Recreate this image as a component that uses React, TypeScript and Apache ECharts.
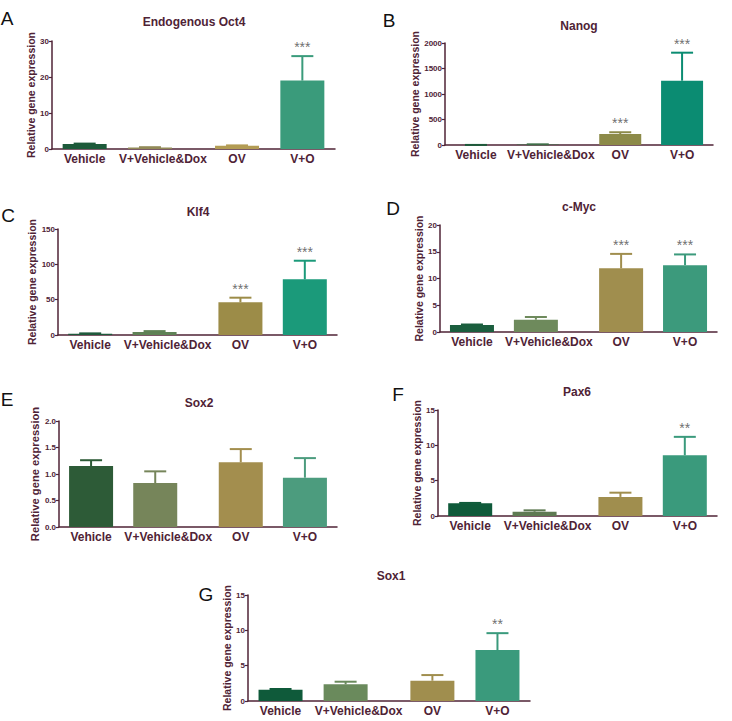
import React, { useEffect, useRef } from "react";
import * as echarts from "echarts";

// ---------- data ----------
const categories = ["Vehicle", "V+Vehicle&Dox", "OV", "V+O"];

const oct4Mean = [1.4, 0.4, 0.9, 19.0];
const oct4Err = [0.1, 0.1, 0.1, 6.8];
const oct4Stars = ["", "", "", "***"];

const nanogMean = [1, 10, 216, 1261];
const nanogErr = [0.3, 3, 34, 549];
const nanogStars = ["", "", "***", "***"];

const klf4Mean = [1.8, 4.2, 46.3, 78.8];
const klf4Err = [0.5, 1.3, 6.5, 26.3];
const klf4Stars = ["", "", "***", "***"];

const cmycMean = [1.3, 2.3, 11.9, 12.5];
const cmycErr = [0.1, 0.5, 2.7, 2.0];
const cmycStars = ["", "", "***", "***"];

const sox2Mean = [1.15, 0.83, 1.22, 0.93];
const sox2Err = [0.11, 0.22, 0.25, 0.37];
const sox2Stars = ["", "", "", ""];

const pax6Mean = [1.8, 0.6, 2.7, 8.6];
const pax6Err = [0.05, 0.2, 0.6, 2.6];
const pax6Stars = ["", "", "", "**"];

const sox1Mean = [1.6, 2.36, 2.87, 7.2];
const sox1Err = [0.1, 0.37, 0.8, 2.4];
const sox1Stars = ["", "", "", "**"];

// y axis ranges (max, interval)
const oct4Axis = [30, 10];
const nanogAxis = [2000, 500];
const klf4Axis = [150, 50];
const cmycAxis = [20, 5];
const sox2Axis = [2, 0.5];
const pax6Axis = [15, 5];
const sox1Axis = [15, 5];

// ---------- styles / layout ----------
const FONT = "'Liberation Sans', Arial, sans-serif";
const MAROON = "#4f2336";

const panels = [
  { letter: "A", title: "Endogenous Oct4", mean: oct4Mean, err: oct4Err, stars: oct4Stars, axis: oct4Axis,
    colors: ["#1d5a3a", "#928a58", "#b39c54", "#3a9b7b"],
    left: 52, right: 335, top: 41, bottom: 149, titleX: 194, titleY: 23, lx: 7, ly: 18, nameGap: 14, nameSize: 10.5, bw: 44 },
  { letter: "B", title: "Nanog", mean: nanogMean, err: nanogErr, stars: nanogStars, axis: nanogAxis,
    colors: ["#1d5a3a", "#3f6e48", "#8c8a48", "#0b8c72"],
    left: 445, right: 713, top: 43, bottom: 145, titleX: 579, titleY: 27, lx: 389, ly: 20, nameGap: 20, nameSize: 10.5, bw: 42 },
  { letter: "C", title: "Klf4", mean: klf4Mean, err: klf4Err, stars: klf4Stars, axis: klf4Axis,
    colors: ["#1f5a3c", "#5f8256", "#9c8c48", "#1b9a7a"],
    left: 58, right: 337, top: 229, bottom: 335, titleX: 198, titleY: 213, lx: 8, ly: 215, nameGap: 20, nameSize: 10.5, bw: 44 },
  { letter: "D", title: "c-Myc", mean: cmycMean, err: cmycErr, stars: cmycStars, axis: cmycAxis,
    colors: ["#1b5e3e", "#6e8a5c", "#a08e4e", "#3c9a7c"],
    left: 440, right: 717, top: 225, bottom: 332, titleX: 579, titleY: 208, lx: 393, ly: 208, nameGap: 15, nameSize: 10.5, bw: 44 },
  { letter: "E", title: "Sox2", mean: sox2Mean, err: sox2Err, stars: sox2Stars, axis: sox2Axis, dec: 1,
    colors: ["#2d5b37", "#76855a", "#a38e4e", "#4c9c7e"],
    left: 59, right: 337, top: 421, bottom: 527, titleX: 199, titleY: 404, lx: 7, ly: 399, nameGap: 16, nameSize: 11.2, bw: 44 },
  { letter: "F", title: "Pax6", mean: pax6Mean, err: pax6Err, stars: pax6Stars, axis: pax6Axis,
    colors: ["#0f5a3a", "#5e7a52", "#a08e4e", "#3a9a7c"],
    left: 438, right: 717, top: 410, bottom: 516, titleX: 577, titleY: 393, lx: 398, ly: 394, nameGap: 15, nameSize: 10.5, bw: 44 },
  { letter: "G", title: "Sox1", mean: sox1Mean, err: sox1Err, stars: sox1Stars, axis: sox1Axis,
    colors: ["#0f5a3a", "#6a8a5c", "#a08e4e", "#3a9a7c"],
    left: 248, right: 530, top: 595, bottom: 701, titleX: 391, titleY: 577, lx: 206, ly: 594, nameGap: 11, nameSize: 10.5, bw: 44 },
];

// category slot positions: GraphPad-style gap between 2nd and 3rd bar
const positions = categories.map((_, i) => i * 3 + (i >= 2 ? 1 : 0));

function buildOption() {
  const grid: any[] = [];
  const xAxis: any[] = [];
  const yAxis: any[] = [];
  const series: any[] = [];
  const title: any[] = [];
  const graphic: any[] = [];

  panels.forEach((p: any, i) => {
    grid.push({ left: p.left, top: p.top, width: p.right - p.left, height: p.bottom - p.top, containLabel: false, outerBoundsMode: "none" });
    xAxis.push({
      type: "value", gridIndex: i, min: -1.5, max: 11.5, interval: 0.5,
      splitLine: { show: false }, axisTick: { show: false },
      axisLine: { show: true, onZero: false, lineStyle: { color: MAROON, width: 1.5 } },
      axisLabel: {
        margin: 4, fontSize: 12, fontWeight: "bold", color: MAROON, fontFamily: FONT,
        showMinLabel: true, showMaxLabel: true,
        formatter: (v: number) => {
          const k = positions.findIndex((q) => Math.abs(q - v) < 1e-6);
          if (k < 0) return "";
          return k === 1 ? "{s|" + categories[k] + "}" : categories[k];
        },
        rich: { s: { padding: [0, 0, 0, 26], fontSize: 12, fontWeight: "bold", color: MAROON, fontFamily: FONT } },
      },
    });
    yAxis.push({
      type: "value", gridIndex: i, min: 0, max: p.axis[0], interval: p.axis[1],
      name: "Relative gene expression", nameLocation: "middle", nameRotate: 90, nameGap: p.nameGap,
      nameTextStyle: { fontSize: p.nameSize, fontWeight: "bold", color: MAROON, fontFamily: FONT },
      axisLine: { show: true, onZero: false, lineStyle: { color: MAROON, width: 1.5 } },
      axisTick: { show: true, length: 3, lineStyle: { color: MAROON, width: 1.2 } },
      axisLabel: {
        fontSize: 8, fontWeight: "bold", color: MAROON, fontFamily: FONT, margin: 3,
        formatter: (v: number) => (p.dec ? v.toFixed(1) : String(v)),
      },
      splitLine: { show: false },
    });
    series.push({
      type: "bar", xAxisIndex: i, yAxisIndex: i, barWidth: p.bw, z: 2,
      data: p.mean.map((m: number, k: number) => ({ value: [positions[k], m], itemStyle: { color: p.colors[k] } })),
    });
    series.push({
      type: "custom", xAxisIndex: i, yAxisIndex: i, z: 3, encode: { x: 0, y: 1 },
      data: p.mean.map((m: number, k: number) => [positions[k], m, p.err[k]]),
      renderItem: (params: any, api: any) => {
        const x = api.value(0), m = api.value(1), e = api.value(2);
        const a = api.coord([x, m]);
        const b = api.coord([x, m + e]);
        const c = p.colors[params.dataIndex];
        return {
          type: "group",
          children: [
            { type: "line", shape: { x1: a[0], y1: a[1], x2: b[0], y2: b[1] }, style: { stroke: c, lineWidth: 2 } },
            { type: "line", shape: { x1: b[0] - 11, y1: b[1], x2: b[0] + 11, y2: b[1] }, style: { stroke: c, lineWidth: 2 } },
          ],
        };
      },
    });
    const starData = p.mean
      .map((m: number, k: number) => [positions[k], m + p.err[k], p.stars[k]])
      .filter((d: any) => d[2] !== "");
    series.push({
      type: "scatter", xAxisIndex: i, yAxisIndex: i, symbolSize: 0, z: 4, silent: true,
      data: starData,
      label: {
        show: true, position: "top", distance: 2, formatter: (q: any) => q.data[2],
        fontSize: 14, color: "#4a4a4a", fontFamily: FONT,
      },
    });
    title.push({
      text: p.title, left: p.titleX, top: p.titleY - 7, textAlign: "center", padding: 0,
      textStyle: { fontSize: 12, fontWeight: "bold", color: MAROON, fontFamily: FONT },
    });
    graphic.push({
      type: "text", x: p.lx, y: p.ly,
      style: { text: p.letter, fontSize: 19, fontFamily: FONT, fill: "#111", align: "center", verticalAlign: "middle" },
    });
  });

  return { animation: false, backgroundColor: "#fff", grid, xAxis, yAxis, series, title, graphic };
}

export default function App() {
  const ref = useRef<HTMLDivElement>(null);
  useEffect(() => {
    if (!ref.current) return;
    const chart = echarts.init(ref.current, undefined, { renderer: "svg" });
    chart.setOption(buildOption() as any);
    return () => chart.dispose();
  }, []);
  return <div ref={ref} style={{ position: "absolute", left: 0, top: 0, width: 732, height: 721, background: "#fff" }} />;
}
